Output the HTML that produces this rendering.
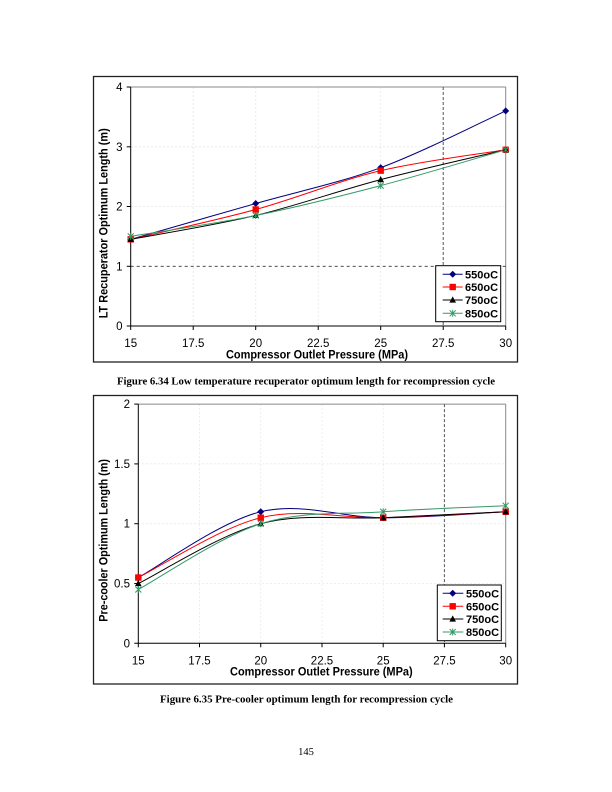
<!DOCTYPE html>
<html><head><meta charset="utf-8"><style>
html,body{margin:0;padding:0;background:#fff;}
svg{display:block;}
.tk{font-family:"Liberation Sans",Arial,sans-serif;font-size:11.5px;fill:#000;}
.tt{font-family:"Liberation Sans",Arial,sans-serif;font-size:12px;font-weight:bold;fill:#000;}
.lg{font-family:"Liberation Sans",Arial,sans-serif;font-size:11px;font-weight:bold;fill:#000;}
.cap{font-family:"Liberation Serif","Times New Roman",serif;font-size:10.5px;font-weight:bold;fill:#000;}
.pg{font-family:"Liberation Serif","Times New Roman",serif;font-size:10.5px;fill:#000;}
</style></head><body>
<svg width="612" height="792" viewBox="0 0 612 792" xmlns="http://www.w3.org/2000/svg">
<defs>
<g id="md"><polygon points="0,-3.5 3.5,0 0,3.5 -3.5,0" fill="#000080"/></g>
<g id="ms"><rect x="-3.2" y="-3.2" width="6.4" height="6.4" fill="#ff0000"/></g>
<g id="mt"><polygon points="0,-3.6 3.3,2.6 -3.3,2.6" fill="#000"/></g>
<g id="mx" stroke="#339966" stroke-width="1"><line x1="-3" y1="-3" x2="3" y2="3"/><line x1="-3" y1="3" x2="3" y2="-3"/><line x1="0" y1="-3.5" x2="0" y2="3.5"/></g>
</defs>

<!-- ================= CHART 1 ================= -->
<rect x="93.5" y="76.5" width="424" height="285.5" fill="#fff" stroke="#222" stroke-width="1.3"/>
<!-- gridlines -->
<g stroke="#e6e6e6" stroke-width="0.8" stroke-dasharray="2,2">
<line x1="193.2" y1="87" x2="193.2" y2="326"/><line x1="255.7" y1="87" x2="255.7" y2="326"/>
<line x1="318.2" y1="87" x2="318.2" y2="326"/><line x1="380.7" y1="87" x2="380.7" y2="326"/>
<line x1="130.7" y1="146.8" x2="505.7" y2="146.8"/><line x1="130.7" y1="206.5" x2="505.7" y2="206.5"/>
</g>
<line x1="130.7" y1="87" x2="505.7" y2="87" stroke="#888" stroke-width="1"/>
<line x1="505.7" y1="87" x2="505.7" y2="326" stroke="#888" stroke-width="1"/>
<!-- dashed reference lines -->
<line x1="130.7" y1="266.3" x2="505.7" y2="266.3" stroke="#333" stroke-width="0.9" stroke-dasharray="3,3"/>
<line x1="443.2" y1="87" x2="443.2" y2="326" stroke="#555" stroke-width="1" stroke-dasharray="3,2"/>
<!-- axes -->
<line x1="130.7" y1="87" x2="130.7" y2="326" stroke="#000" stroke-width="1"/>
<line x1="126.7" y1="326" x2="505.7" y2="326" stroke="#000" stroke-width="1"/>
<g stroke="#000" stroke-width="1">
<line x1="126.7" y1="87" x2="130.7" y2="87"/><line x1="126.7" y1="146.8" x2="130.7" y2="146.8"/>
<line x1="126.7" y1="206.5" x2="130.7" y2="206.5"/><line x1="126.7" y1="266.3" x2="130.7" y2="266.3"/>
<line x1="130.7" y1="326" x2="130.7" y2="330"/><line x1="193.2" y1="326" x2="193.2" y2="330"/>
<line x1="255.7" y1="326" x2="255.7" y2="330"/><line x1="318.2" y1="326" x2="318.2" y2="330"/>
<line x1="380.7" y1="326" x2="380.7" y2="330"/><line x1="443.2" y1="326" x2="443.2" y2="330"/>
<line x1="505.7" y1="326" x2="505.7" y2="330"/>
</g>
<g class="tk" text-anchor="end">
<text x="122.5" y="91">4</text><text x="122.5" y="150.8">3</text>
<text x="122.5" y="210.5">2</text><text x="122.5" y="270.3">1</text><text x="122.5" y="330">0</text>
</g>
<g class="tk" text-anchor="middle">
<text x="130.7" y="347">15</text><text x="193.2" y="347">17.5</text><text x="255.7" y="347">20</text>
<text x="318.2" y="347">22.5</text><text x="380.7" y="347">25</text><text x="443.2" y="347">27.5</text>
<text x="505.7" y="347">30</text>
</g>
<text class="tt" x="226" y="358.3" textLength="182" lengthAdjust="spacingAndGlyphs">Compressor Outlet Pressure (MPa)</text>
<text class="tt" transform="translate(107.6,318.3) rotate(-90)" x="0" y="0" textLength="190" lengthAdjust="spacingAndGlyphs">LT Recuperator Optimum Length (m)</text>
<!-- series -->
<g fill="none" stroke-width="1">
<path stroke="#000080" d="M130.7,239.36 C151.53,233.39 214.03,215.46 255.7,203.51 C297.37,191.56 339.03,183.10 380.7,167.66 C422.37,152.23 484.87,120.36 505.7,110.9"/>
<path stroke="#ff0000" d="M130.7,239.36 C151.53,234.38 214.03,220.94 255.7,209.49 C297.37,198.04 339.03,180.61 380.7,170.65 C422.37,160.69 484.87,153.23 505.7,149.74"/>
<path stroke="#000" d="M130.7,239.36 C151.53,235.38 214.03,225.42 255.7,215.46 C297.37,205.50 339.03,190.56 380.7,179.61 C422.37,168.66 484.87,154.72 505.7,149.74"/>
<path stroke="#339966" d="M130.7,236.37 C151.53,232.88 214.03,223.92 255.7,215.46 C297.37,207.00 339.03,196.54 380.7,185.59 C422.37,174.64 484.87,155.72 505.7,149.74"/>
</g>
<use href="#md" x="130.7" y="239.36"/><use href="#md" x="255.7" y="203.51"/><use href="#md" x="380.7" y="167.66"/><use href="#md" x="505.7" y="110.9"/>
<use href="#ms" x="130.7" y="239.36"/><use href="#ms" x="255.7" y="209.49"/><use href="#ms" x="380.7" y="170.65"/><use href="#ms" x="505.7" y="149.74"/>
<use href="#mt" x="130.7" y="239.36"/><use href="#mt" x="255.7" y="215.46"/><use href="#mt" x="380.7" y="179.61"/><use href="#mt" x="505.7" y="149.74"/>
<use href="#mx" x="130.7" y="236.37"/><use href="#mx" x="255.7" y="215.46"/><use href="#mx" x="380.7" y="185.59"/><use href="#mx" x="505.7" y="149.74"/>
<!-- legend -->
<rect x="435.7" y="265.7" width="65" height="56" fill="#fff" stroke="#000" stroke-width="1"/>
<line x1="442.7" y1="274.3" x2="462.7" y2="274.3" stroke="#000080"/><use href="#md" x="452.7" y="274.3"/>
<line x1="442.7" y1="287" x2="462.7" y2="287" stroke="#ff0000"/><use href="#ms" x="452.7" y="287"/>
<line x1="442.7" y1="300" x2="462.7" y2="300" stroke="#000"/><use href="#mt" x="452.7" y="300"/>
<line x1="442.7" y1="313.3" x2="462.7" y2="313.3" stroke="#339966"/><use href="#mx" x="452.7" y="313.3"/>
<g class="lg">
<text x="465" y="278.3">550oC</text><text x="465" y="291">650oC</text>
<text x="465" y="304">750oC</text><text x="465" y="317.3">850oC</text>
</g>

<text class="cap" x="117" y="384.5" textLength="378" lengthAdjust="spacingAndGlyphs">Figure 6.34 Low temperature recuperator optimum length for recompression cycle</text>

<!-- ================= CHART 2 ================= -->
<rect x="93.5" y="395.5" width="424" height="288.5" fill="#fff" stroke="#222" stroke-width="1.3"/>
<g stroke="#e6e6e6" stroke-width="0.8" stroke-dasharray="2,2">
<line x1="199.5" y1="404.1" x2="199.5" y2="643.3"/><line x1="260.75" y1="404.1" x2="260.75" y2="643.3"/>
<line x1="322" y1="404.1" x2="322" y2="643.3"/><line x1="383.2" y1="404.1" x2="383.2" y2="643.3"/>
<line x1="138.3" y1="463.9" x2="505.7" y2="463.9"/><line x1="138.3" y1="523.7" x2="505.7" y2="523.7"/>
<line x1="138.3" y1="583.5" x2="505.7" y2="583.5"/>
</g>
<line x1="138.3" y1="404.1" x2="505.7" y2="404.1" stroke="#888" stroke-width="1"/>
<line x1="505.7" y1="404.1" x2="505.7" y2="643.3" stroke="#888" stroke-width="1"/>
<line x1="444.4" y1="404.1" x2="444.4" y2="643.3" stroke="#555" stroke-width="1" stroke-dasharray="3,2"/>
<line x1="138.3" y1="404.1" x2="138.3" y2="643.3" stroke="#000" stroke-width="1"/>
<line x1="134.3" y1="643.3" x2="505.7" y2="643.3" stroke="#000" stroke-width="1"/>
<g stroke="#000" stroke-width="1">
<line x1="134.3" y1="404.1" x2="138.3" y2="404.1"/><line x1="134.3" y1="463.9" x2="138.3" y2="463.9"/>
<line x1="134.3" y1="523.7" x2="138.3" y2="523.7"/><line x1="134.3" y1="583.5" x2="138.3" y2="583.5"/>
<line x1="138.3" y1="643.3" x2="138.3" y2="647.3"/><line x1="199.5" y1="643.3" x2="199.5" y2="647.3"/>
<line x1="260.75" y1="643.3" x2="260.75" y2="647.3"/><line x1="322" y1="643.3" x2="322" y2="647.3"/>
<line x1="383.2" y1="643.3" x2="383.2" y2="647.3"/><line x1="444.4" y1="643.3" x2="444.4" y2="647.3"/>
<line x1="505.7" y1="643.3" x2="505.7" y2="647.3"/>
</g>
<g class="tk" text-anchor="end">
<text x="130" y="408.1">2</text><text x="130" y="467.9">1.5</text>
<text x="130" y="527.7">1</text><text x="130" y="587.5">0.5</text><text x="130" y="647.3">0</text>
</g>
<g class="tk" text-anchor="middle">
<text x="138.3" y="664.3">15</text><text x="199.5" y="664.3">17.5</text><text x="260.75" y="664.3">20</text>
<text x="322" y="664.3">22.5</text><text x="383.2" y="664.3">25</text><text x="444.4" y="664.3">27.5</text>
<text x="505.7" y="664.3">30</text>
</g>
<text class="tt" x="230" y="675.6" textLength="182.7" lengthAdjust="spacingAndGlyphs">Compressor Outlet Pressure (MPa)</text>
<text class="tt" transform="translate(107.6,621.7) rotate(-90)" x="0" y="0" textLength="162.7" lengthAdjust="spacingAndGlyphs">Pre-cooler Optimum Length (m)</text>
<g fill="none" stroke-width="1">
<path stroke="#000080" d="M138.3,577.52 C158.71,566.56 219.93,521.71 260.75,511.74 C301.57,501.77 342.38,517.72 383.2,517.72 C424.02,517.72 485.29,512.74 505.7,511.74"/>
<path stroke="#ff0000" d="M138.3,577.52 C158.71,567.55 219.93,527.69 260.75,517.72 C301.57,507.75 342.38,518.72 383.2,517.72 C424.02,516.72 485.29,512.74 505.7,511.74"/>
<path stroke="#000" d="M138.3,583.5 C158.71,573.53 219.93,534.66 260.75,523.7 C301.57,512.74 342.38,519.71 383.2,517.72 C424.02,515.73 485.29,512.74 505.7,511.74"/>
<path stroke="#339966" d="M138.3,589.48 C158.71,578.52 219.93,536.66 260.75,523.7 C301.57,510.74 342.38,514.73 383.2,511.74 C424.02,508.75 485.29,506.76 505.7,505.76"/>
</g>
<use href="#md" x="138.3" y="577.52"/><use href="#md" x="260.75" y="511.74"/><use href="#md" x="383.2" y="517.72"/><use href="#md" x="505.7" y="511.74"/>
<use href="#ms" x="138.3" y="577.52"/><use href="#ms" x="260.75" y="517.72"/><use href="#ms" x="383.2" y="517.72"/><use href="#ms" x="505.7" y="511.74"/>
<use href="#mt" x="138.3" y="583.5"/><use href="#mt" x="260.75" y="523.7"/><use href="#mt" x="383.2" y="517.72"/><use href="#mt" x="505.7" y="511.74"/>
<use href="#mx" x="138.3" y="589.48"/><use href="#mx" x="260.75" y="523.7"/><use href="#mx" x="383.2" y="511.74"/><use href="#mx" x="505.7" y="505.76"/>
<rect x="437.3" y="585" width="64" height="55.7" fill="#fff" stroke="#000" stroke-width="1"/>
<line x1="442.7" y1="593.3" x2="463.3" y2="593.3" stroke="#000080"/><use href="#md" x="452.7" y="593.3"/>
<line x1="442.7" y1="606.3" x2="463.3" y2="606.3" stroke="#ff0000"/><use href="#ms" x="452.7" y="606.3"/>
<line x1="442.7" y1="619" x2="463.3" y2="619" stroke="#000"/><use href="#mt" x="452.7" y="619"/>
<line x1="442.7" y1="632" x2="463.3" y2="632" stroke="#339966"/><use href="#mx" x="452.7" y="632"/>
<g class="lg">
<text x="466" y="597.3">550oC</text><text x="466" y="610.3">650oC</text>
<text x="466" y="623">750oC</text><text x="466" y="636">850oC</text>
</g>

<text class="cap" x="160" y="702.5" textLength="293" lengthAdjust="spacingAndGlyphs">Figure 6.35 Pre-cooler optimum length for recompression cycle</text>

<text class="pg" x="306" y="755" text-anchor="middle">145</text>
</svg>
</body></html>
